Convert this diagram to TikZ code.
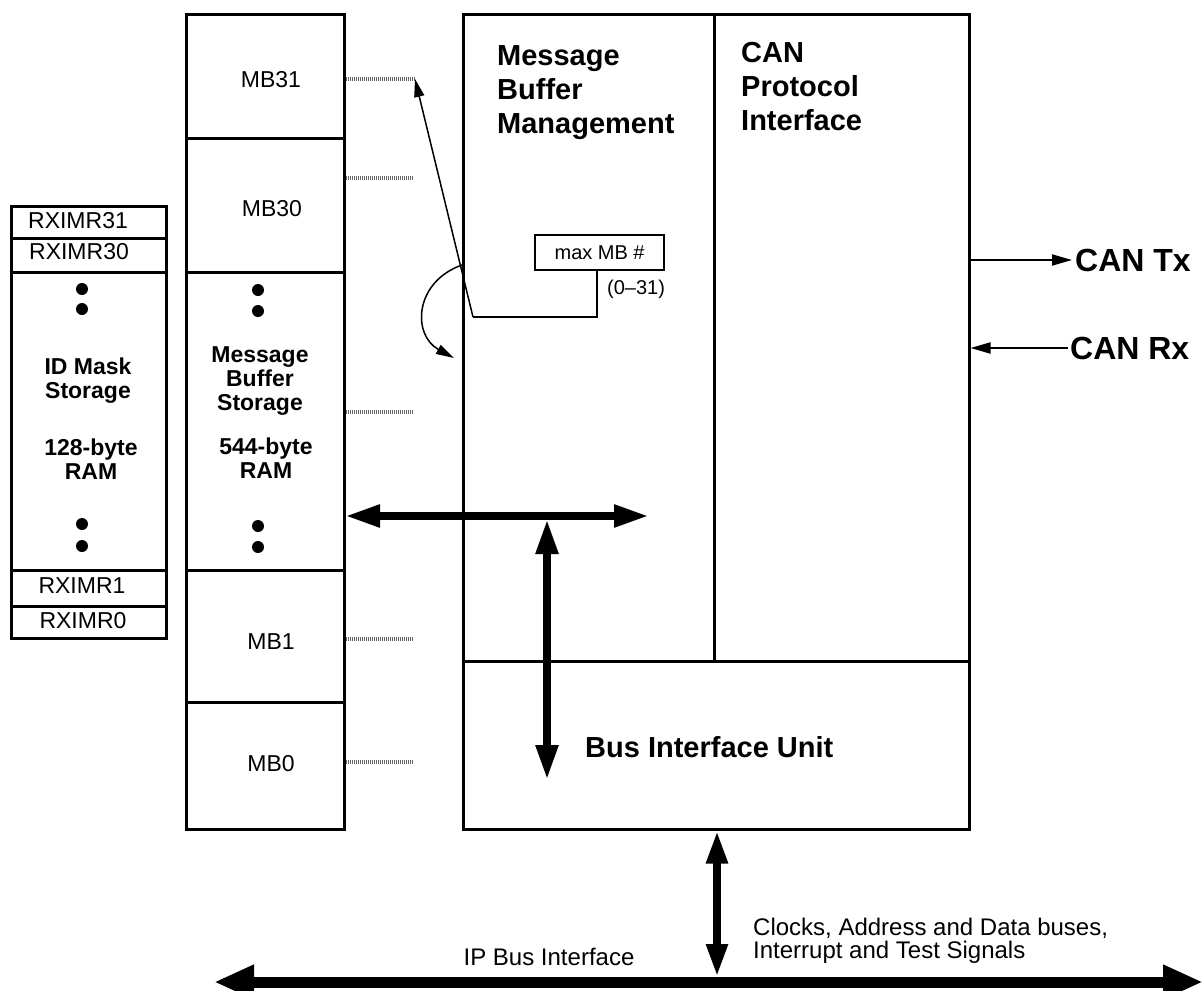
\documentclass[tikz,border=0pt]{standalone}
\usepackage{fontspec}
\setmainfont{Liberation Sans}
\usetikzlibrary{arrows.meta, positioning}
\newcommand{\celltext}{\fontsize{23}{26}\selectfont}
\newcommand{\colbold}{\fontsize{23}{24}\selectfont\bfseries}
\newcommand{\titletext}{\fontsize{29}{34}\selectfont\bfseries}
\newcommand{\pintext}{\fontsize{32}{36}\selectfont\bfseries}
\newcommand{\smalltext}{\fontsize{20}{24}\selectfont}
\newcommand{\bustext}{\fontsize{24}{22.5}\selectfont}

\begin{document}
\begin{tikzpicture}[x=1pt, y=-1pt,
    cell/.style={draw, line width=2.5pt, anchor=north west, inner sep=0pt},
    dotline/.style={black!60, line width=3.5pt, dash pattern=on 1.2pt off 0.8pt},
    thinarrow/.style={line width=1.5pt, -{Triangle[length=18pt, width=10pt]}},
    pinarrow/.style={line width=2pt, -{Triangle[length=20pt, width=11pt]}},
    busarrow/.style={line width=8pt, {Triangle[length=35pt, width=21pt]}-{Triangle[length=35pt, width=21pt]}},
    ipbusarrow/.style={line width=11pt, {Triangle[length=40pt, width=32pt]}-{Triangle[length=40pt, width=32pt]}},
    sigarrow/.style={line width=8pt, {Triangle[length=33pt, width=20pt]}-{Triangle[length=33pt, width=20pt]}}]
    \fill[white] (0,0) rectangle (1203,991);
    \useasboundingbox (0,0) rectangle (1203,991);
    % ID mask storage column
    \node[cell, minimum width=155pt, minimum height=32pt] (rx31) at (10,205) {};
    \node[cell, minimum width=155pt, minimum height=34pt] (rx30) at (10,237) {};
    \node[cell, minimum width=155pt, minimum height=298pt] (idmask) at (10,271) {};
    \node[cell, minimum width=155pt, minimum height=36pt] (rx1) at (10,569) {};
    \node[cell, minimum width=155pt, minimum height=32pt] (rx0) at (10,605) {};
    \node[font=\celltext, inner sep=0pt] (rx31txt) at (78,221) {RXIMR31};
    \node[font=\celltext, inner sep=0pt] (rx30txt) at (79,252) {RXIMR30};
    \node[font=\celltext, inner sep=0pt] (rx1txt) at (82,586) {RXIMR1};
    \node[font=\celltext, inner sep=0pt] (rx0txt) at (83,621) {RXIMR0};
    \node[font=\colbold, align=center, anchor=north, inner sep=0pt] (idtxt) at (88,358) {ID Mask\\Storage};
    \node[font=\colbold, align=center, anchor=north, inner sep=0pt] (idram) at (91,439) {128-byte\\RAM};
    \fill (82,289) circle (6pt); \fill (82,309) circle (6pt);
    \fill (82,524) circle (6pt); \fill (82,546) circle (6pt);
    % Message buffer column
    \node[cell, minimum width=158pt, minimum height=124pt] (mb31) at (185,13) {};
    \node[cell, minimum width=158pt, minimum height=134pt] (mb30) at (185,137) {};
    \node[cell, minimum width=158pt, minimum height=298pt] (mbstore) at (185,271) {};
    \node[cell, minimum width=158pt, minimum height=132pt] (mb1) at (185,569) {};
    \node[cell, minimum width=158pt, minimum height=127pt] (mb0) at (185,701) {};
    \node[font=\celltext, inner sep=0pt] (mb31txt) at (271,80) {MB31};
    \node[font=\celltext, inner sep=0pt] (mb30txt) at (272,209) {MB30};
    \node[font=\celltext, inner sep=0pt] (mb1txt) at (271,642) {MB1};
    \node[font=\celltext, inner sep=0pt] (mb0txt) at (271,764) {MB0};
    \node[font=\colbold, align=center, anchor=north, inner sep=0pt] (mbtxt) at (260,346) {Message\\Buffer\\Storage};
    \node[font=\colbold, align=center, anchor=north, inner sep=0pt] (mbram) at (266,438) {544-byte\\RAM};
    \fill (258,290) circle (6pt); \fill (258,311) circle (6pt);
    \fill (258,526) circle (6pt); \fill (258,547) circle (6pt);
    % FlexCAN block
    \node[cell, minimum width=251pt, minimum height=647pt] (mbm) at (462,13) {};
    \node[cell, minimum width=255pt, minimum height=647pt] (cpi) at (713,13) {};
    \node[cell, minimum width=506pt, minimum height=168pt] (biu) at (462,660) {};
    \node[font=\titletext, align=left, anchor=north west, inner sep=0pt] (mbmtitle) at (497,45) {Message\\Buffer\\Management};
    \node[font=\titletext, align=left, anchor=north west, inner sep=0pt] (cpititle) at (741,42) {CAN\\Protocol\\Interface};
    \node[font=\titletext, anchor=base west, inner sep=0pt] (biutitle) at (585,757) {Bus Interface Unit};
    \node[draw, line width=2.2pt, minimum width=129pt, minimum height=35pt, anchor=north west, font=\smalltext] (maxmb) at (534,234) {max MB \#};
    \node[font=\smalltext, anchor=west, inner sep=0pt] (range) at (607,289) {(0--31)};
    % Dotted taps
    \coordinate (t31) at (415,79);
    \coordinate (t30) at (413,178);
    \coordinate (tstore) at (413,412);
    \coordinate (t1) at (413,639);
    \coordinate (t0) at (413,762);
    \draw[dotline] (mb31.east |- t31) -- (t31);
    \draw[dotline] (mb30.east |- t30) -- (t30);
    \draw[dotline] (mbstore.east |- tstore) -- (tstore);
    \draw[dotline] (mb1.east |- t1) -- (t1);
    \draw[dotline] (mb0.east |- t0) -- (t0);
    % Max MB pointer
    \coordinate (drop) at (597,269);
    \coordinate (bend) at (473,317);
    \draw[line width=2.7pt] (maxmb.south -| drop) |- (bend);
    \draw[thinarrow] (bend) -- (t31);
    \coordinate (cs) at (462,265);
    \coordinate (ce) at (454,358);
    \draw[thinarrow] (cs) .. controls (414,282) and (412,335) .. (ce);
    % Internal buses
    \coordinate (hl) at (345,516);
    \coordinate (hr) at (649,516);
    \coordinate (vt) at (547,519);
    \coordinate (vb) at (547,780);
    \draw[busarrow] (hl) -- (hr);
    \draw[busarrow] (vt) -- (vb);
    % CAN pins
    \node[font=\pintext, anchor=west, inner sep=0pt] (cantx) at (1075,260) {CAN Tx};
    \node[font=\pintext, anchor=west, inner sep=0pt] (canrx) at (1070,348) {CAN Rx};
    \draw[pinarrow] (cpi.east |- cantx) -- ([xshift=-3pt]cantx.west);
    \draw[pinarrow] ([xshift=-2pt]canrx.west) -- (cpi.east |- canrx);
    % IP bus
    \coordinate (busL) at (214,982);
    \coordinate (busR) at (1203,982);
    \coordinate (busM) at (717,977);
    \draw[ipbusarrow] (busL) -- (busR);
    \draw[sigarrow] (biu.south -| busM) -- (busM);
    \node[font=\bustext, anchor=base, inner sep=0pt] (ipbus) at (549,965) {IP Bus Interface};
    \node[font=\bustext, align=left, anchor=north west, inner sep=0pt] (sigs) at (753,918) {Clocks, Address and Data buses,\\Interrupt and Test Signals};
\end{tikzpicture}
\end{document}
